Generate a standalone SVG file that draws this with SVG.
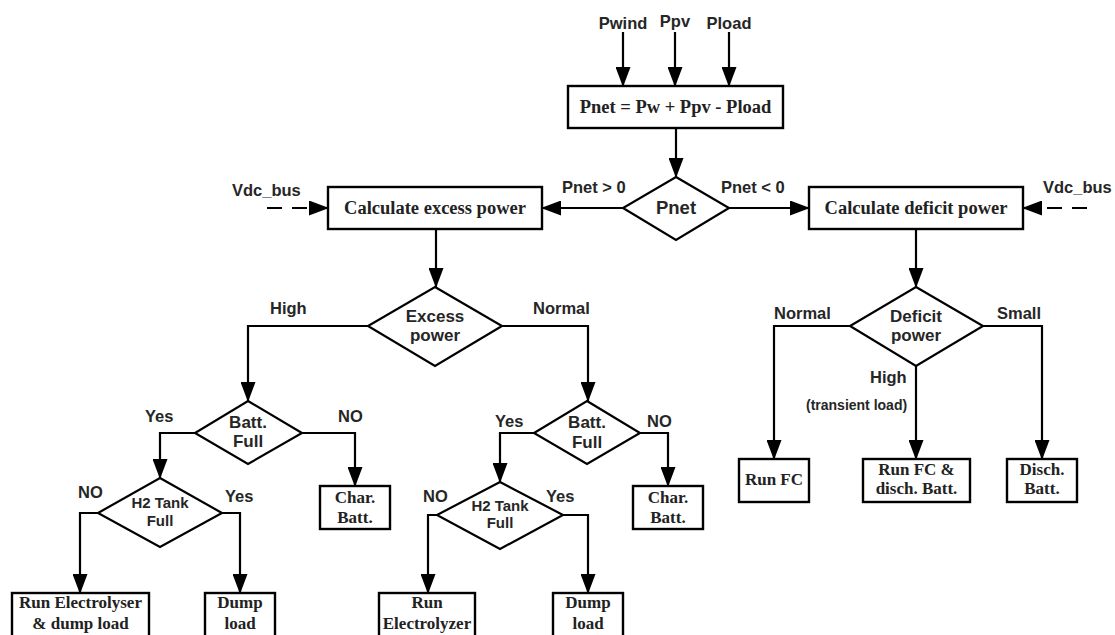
<svg xmlns="http://www.w3.org/2000/svg" width="1115" height="635" viewBox="0 0 1115 635">
<defs>
<marker id="arr" markerUnits="userSpaceOnUse" markerWidth="20" markerHeight="15" refX="19" refY="7.5" orient="auto">
<path d="M0,0 L20,7.5 L0,15 z" fill="#000"/>
</marker>
<style>
.box{fill:#fff;stroke:#000;stroke-width:2.4}
.dia{fill:#fff;stroke:#000;stroke-width:2.2}
.ln{fill:none;stroke:#000;stroke-width:2.2;marker-end:url(#arr)}
.dash{stroke-dasharray:15 10}
.lab{font-family:"Liberation Sans",Arial,sans-serif;font-weight:bold;font-size:16.5px;fill:#262626}
.dt{font-family:"Liberation Sans",Arial,sans-serif;font-weight:bold;font-size:17px;fill:#262626;text-anchor:middle}
.bt{font-family:"Liberation Serif","Times New Roman",serif;font-weight:bold;font-size:17px;fill:#222;text-anchor:middle}
.big{font-family:"Liberation Serif","Times New Roman",serif;font-weight:bold;font-size:18.5px;fill:#222;text-anchor:middle}
</style>
</defs>
<rect width="1115" height="635" fill="#fff"/>

<g id="connectors">
<path class="ln" d="M623,32 V86"/>
<path class="ln" d="M675,32 V86"/>
<path class="ln" d="M729,32 V86"/>
<path class="ln" d="M676,128 V177"/>
<path class="ln" d="M623,208 H542"/>
<path class="ln" d="M729,208 H809"/>
<path class="ln dash" d="M267,208 H328"/>
<path class="ln dash" d="M1087,208 H1023"/>
<path class="ln" d="M436,229 V287"/>
<path class="ln" d="M916,229 V287"/>
<path class="ln" d="M368,326 H248 V401"/>
<path class="ln" d="M502,326 H588 V401"/>
<path class="ln" d="M195,433 H160 V478"/>
<path class="ln" d="M302,433 H355 V486"/>
<path class="ln" d="M98,513 H80 V593"/>
<path class="ln" d="M222,513 H240 V593"/>
<path class="ln" d="M534,433 H500 V482"/>
<path class="ln" d="M640,433 H668 V486"/>
<path class="ln" d="M437,515 H428 V593"/>
<path class="ln" d="M563,515 H588 V593"/>
<path class="ln" d="M850,326 H774 V459"/>
<path class="ln" d="M916,366 V459"/>
<path class="ln" d="M983,326 H1042 V459"/>
</g>

<g id="labels">
<text class="lab" x="623" y="29" text-anchor="middle">Pwind</text>
<text class="lab" x="675" y="27" text-anchor="middle">Ppv</text>
<text class="lab" x="729" y="29" text-anchor="middle">Pload</text>
<text class="lab" x="562" y="193">Pnet &gt; 0</text>
<text class="lab" x="721" y="193">Pnet &lt; 0</text>
<text class="lab" x="232" y="196">Vdc_bus</text>
<text class="lab" x="1043" y="193">Vdc_bus</text>
<text class="lab" x="270" y="314">High</text>
<text class="lab" x="533" y="314">Normal</text>
<text class="lab" x="145" y="422">Yes</text>
<text class="lab" x="338" y="422">NO</text>
<text class="lab" x="495" y="427">Yes</text>
<text class="lab" x="647" y="427">NO</text>
<text class="lab" x="78" y="498">NO</text>
<text class="lab" x="225" y="502">Yes</text>
<text class="lab" x="423" y="502">NO</text>
<text class="lab" x="546" y="502">Yes</text>
<text class="lab" x="774" y="319">Normal</text>
<text class="lab" x="997" y="319">Small</text>
<text class="lab" x="870" y="383">High</text>
<text class="lab" x="806" y="410" style="font-size:14px">(transient load)</text>
</g>

<g id="n-pnet-calc">
<rect class="box" x="568" y="86" width="215" height="42"/>
<text class="big" x="675.5" y="113">Pnet = Pw + Ppv - Pload</text>
</g>
<g id="n-pnet">
<polygon class="dia" points="676,177 729,208 676,240 623,208"/>
<text class="dt" x="676" y="214" style="font-size:18.5px">Pnet</text>
</g>
<g id="n-excess-calc">
<rect class="box" x="328" y="187" width="214" height="42"/>
<text class="big" x="435" y="214">Calculate excess power</text>
</g>
<g id="n-deficit-calc">
<rect class="box" x="809" y="187" width="214" height="42"/>
<text class="big" x="916" y="214">Calculate deficit power</text>
</g>
<g id="n-excess">
<polygon class="dia" points="435,287 502,326 435,366 368,326"/>
<text class="dt" x="435" y="322">Excess</text>
<text class="dt" x="435" y="341">power</text>
</g>
<g id="n-deficit">
<polygon class="dia" points="916,287 983,326 916,366 850,326"/>
<text class="dt" x="916" y="322">Deficit</text>
<text class="dt" x="916" y="341">power</text>
</g>
<g id="n-batt-left">
<polygon class="dia" points="248,401 302,433 248,464 195,433"/>
<text class="dt" x="248" y="428">Batt.</text>
<text class="dt" x="248" y="447">Full</text>
</g>
<g id="n-batt-mid">
<polygon class="dia" points="587,401 640,433 587,464 534,433"/>
<text class="dt" x="587" y="428">Batt.</text>
<text class="dt" x="587" y="448">Full</text>
</g>
<g id="n-h2-left">
<polygon class="dia" points="160,478 222,513 160,547 98,513"/>
<text class="dt" x="160" y="508" style="font-size:15px">H2 Tank</text>
<text class="dt" x="160" y="526" style="font-size:15px">Full</text>
</g>
<g id="n-h2-mid">
<polygon class="dia" points="500,482 563,515 500,549 437,515"/>
<text class="dt" x="500" y="511" style="font-size:15px">H2 Tank</text>
<text class="dt" x="500" y="528" style="font-size:15px">Full</text>
</g>
<g id="n-char-left">
<rect class="box" x="320" y="486" width="70" height="43"/>
<text class="bt" x="355" y="503">Char.</text>
<text class="bt" x="355" y="523">Batt.</text>
</g>
<g id="n-char-mid">
<rect class="box" x="633" y="486" width="70" height="43"/>
<text class="bt" x="668" y="503">Char.</text>
<text class="bt" x="668" y="523">Batt.</text>
</g>
<g id="n-run-elec-dump">
<rect class="box" x="12" y="593" width="137" height="46"/>
<text class="bt" x="80.5" y="608">Run Electrolyser</text>
<text class="bt" x="80.5" y="629">&amp; dump load</text>
</g>
<g id="n-dump-left">
<rect class="box" x="205" y="593" width="70" height="46"/>
<text class="bt" x="240" y="608">Dump</text>
<text class="bt" x="240" y="629">load</text>
</g>
<g id="n-run-elec">
<rect class="box" x="379" y="593" width="96" height="46"/>
<text class="bt" x="427" y="608">Run</text>
<text class="bt" x="427" y="629">Electrolyzer</text>
</g>
<g id="n-dump-mid">
<rect class="box" x="553" y="593" width="70" height="46"/>
<text class="bt" x="588" y="608">Dump</text>
<text class="bt" x="588" y="629">load</text>
</g>
<g id="n-run-fc">
<rect class="box" x="739" y="459" width="70" height="43"/>
<text class="bt" x="774" y="485">Run FC</text>
</g>
<g id="n-run-fc-disch">
<rect class="box" x="863" y="459" width="107" height="43"/>
<text class="bt" x="916.5" y="475">Run FC &amp;</text>
<text class="bt" x="916.5" y="494">disch. Batt.</text>
</g>
<g id="n-disch">
<rect class="box" x="1007" y="459" width="70" height="43"/>
<text class="bt" x="1042" y="475">Disch.</text>
<text class="bt" x="1042" y="494">Batt.</text>
</g>
</svg>
